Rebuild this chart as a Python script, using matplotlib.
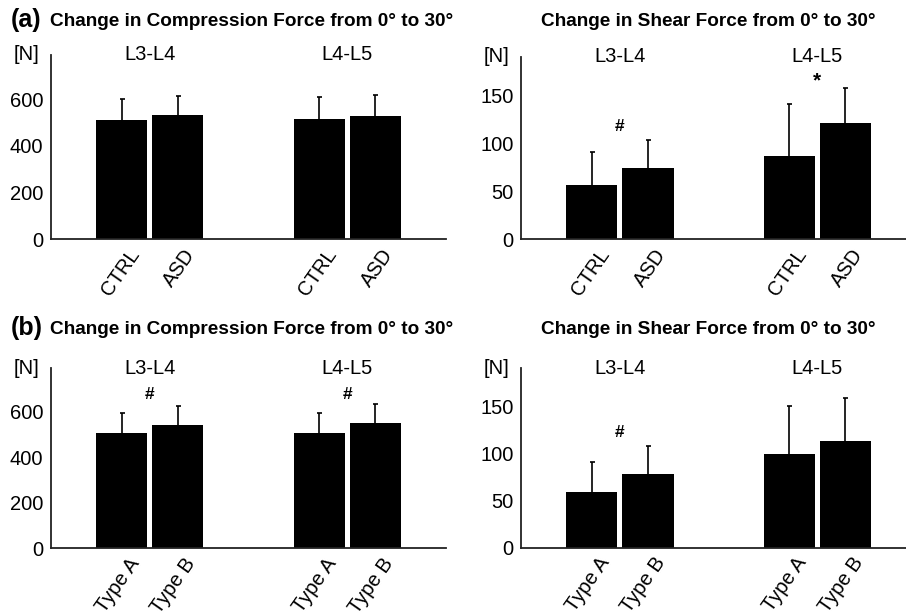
import numpy as np
import matplotlib.pyplot as plt
import matplotlib.transforms as mtransforms

plt.rcParams['font.family'] = ['Liberation Sans', 'DejaVu Sans']

levels = ['L3-L4', 'L4-L5']

# (a) CTRL vs ASD
a_labels = ['CTRL', 'ASD']
a_comp_mean = [[510, 514], [531, 529]]   # [group][level]
a_comp_sd = [[92, 95], [82, 88]]
a_shear_mean = [[57, 86.5], [74.5, 121]]
a_shear_sd = [[34, 54.5], [29, 36.5]]
a_comp_marks = ['', '']
a_shear_marks = ['#', '*']
a_shear_mark_y = [117, 165]

# (b) Type A vs Type B
b_labels = ['Type A', 'Type B']
b_comp_mean = [[505, 505], [543, 549]]
b_comp_sd = [[88, 88], [83, 86]]
b_shear_mean = [[59, 99.5], [78, 113]]
b_shear_sd = [[32, 50.5], [30, 46]]
b_comp_marks = ['#', '#']
b_comp_mark_y = [677, 677]
b_shear_marks = ['#', '']
b_shear_mark_y = [122, 0]

comp_ticks = [0, 200, 400, 600]
shear_ticks = [0, 50, 100, 150]

offset = 0.142
width = 0.259
FS = 14.5


def draw_panel(fig, rect, means, sds, labels, yticks, ylim, xlim, marks, mark_y):
    ax = fig.add_axes(rect)
    groups = np.arange(len(levels))
    for k, lab in enumerate(labels):
        xs = groups + (k - 0.5) * 2 * offset
        ax.bar(xs, means[k], width=width, color='black', linewidth=0, zorder=2)
        # symmetric bars drawn under the bars so only the upper half shows
        ax.errorbar(xs, means[k], yerr=sds[k], fmt='none',
                    ecolor='black', elinewidth=1.2, capsize=1.8, capthick=1.2, zorder=1)
    ax.set_xlim(*xlim)
    ax.set_ylim(*ylim)
    ax.set_yticks(yticks)
    ax.set_yticklabels([str(t) for t in yticks], fontsize=FS)
    ax.tick_params(axis='y', length=0, pad=5.5)
    ax.tick_params(axis='x', length=0, pad=0)
    xt = []
    xl = []
    for g in groups:
        for k, lab in enumerate(labels):
            xt.append(g + (k - 0.5) * 2 * offset)
            xl.append(lab)
    ax.set_xticks(xt)
    ax.set_xticklabels(xl, rotation=55, ha='right', va='top', rotation_mode='anchor', fontsize=FS)
    shift = mtransforms.ScaledTranslation(6 / 100, -6 / 100, fig.dpi_scale_trans)
    for t in ax.get_xticklabels():
        t.set_transform(t.get_transform() + shift)
    for s in ['top', 'right']:
        ax.spines[s].set_visible(False)
    for s in ['left', 'bottom']:
        ax.spines[s].set_linewidth(1.3)
        ax.spines[s].set_color('#222222')
    for g in groups:
        ax.text(g, 1.0, levels[g], transform=ax.get_xaxis_transform(), ha='center', va='center',
                fontsize=FS)
        if marks[g]:
            fs = 15 if marks[g] == '*' else 12.5
            ax.text(g, mark_y[g], marks[g], ha='center', va='center', fontsize=fs, fontweight='bold')
    n_shift = mtransforms.ScaledTranslation(-12 / 100, 0, fig.dpi_scale_trans)
    ax.text(0, 1.0, '[N]', transform=ax.transAxes + n_shift, ha='right', va='center', fontsize=FS)
    return ax


fig = plt.figure(figsize=(9.06, 6.15), dpi=100)

draw_panel(fig, [0.0563, 0.6109, 0.436, 0.2997], a_comp_mean, a_comp_sd, a_labels,
           comp_ticks, (0, 790), (-0.5, 1.5), a_comp_marks, [0, 0])
draw_panel(fig, [0.5754, 0.6109, 0.4246, 0.2969], a_shear_mean, a_shear_sd, a_labels,
           shear_ticks, (0, 190), (-0.5, 1.45), a_shear_marks, a_shear_mark_y)
draw_panel(fig, [0.0563, 0.1085, 0.436, 0.2926], b_comp_mean, b_comp_sd, b_labels,
           comp_ticks, (0, 790), (-0.5, 1.5), b_comp_marks, b_comp_mark_y)
draw_panel(fig, [0.5754, 0.1094, 0.4246, 0.2917], b_shear_mean, b_shear_sd, b_labels,
           shear_ticks, (0, 190), (-0.5, 1.45), b_shear_marks, b_shear_mark_y)

title_kw = dict(fontsize=13.7, fontweight='bold', va='center')
fig.text(11 / 906, 1 - 20 / 615, '(a)', fontsize=18, fontweight='bold', va='center')
fig.text(50 / 906, 1 - 22 / 615, 'Change in Compression Force from 0\u00b0 to 30\u00b0', **title_kw)
fig.text(708 / 906, 1 - 22 / 615, 'Change in Shear Force from 0\u00b0 to 30\u00b0', ha='center', **title_kw)
fig.text(11 / 906, 1 - 328 / 615, '(b)', fontsize=18, fontweight='bold', va='center')
fig.text(50 / 906, 1 - 329 / 615, 'Change in Compression Force from 0\u00b0 to 30\u00b0', **title_kw)
fig.text(708 / 906, 1 - 329 / 615, 'Change in Shear Force from 0\u00b0 to 30\u00b0', ha='center', **title_kw)

fig.savefig('out.png', dpi=100)
